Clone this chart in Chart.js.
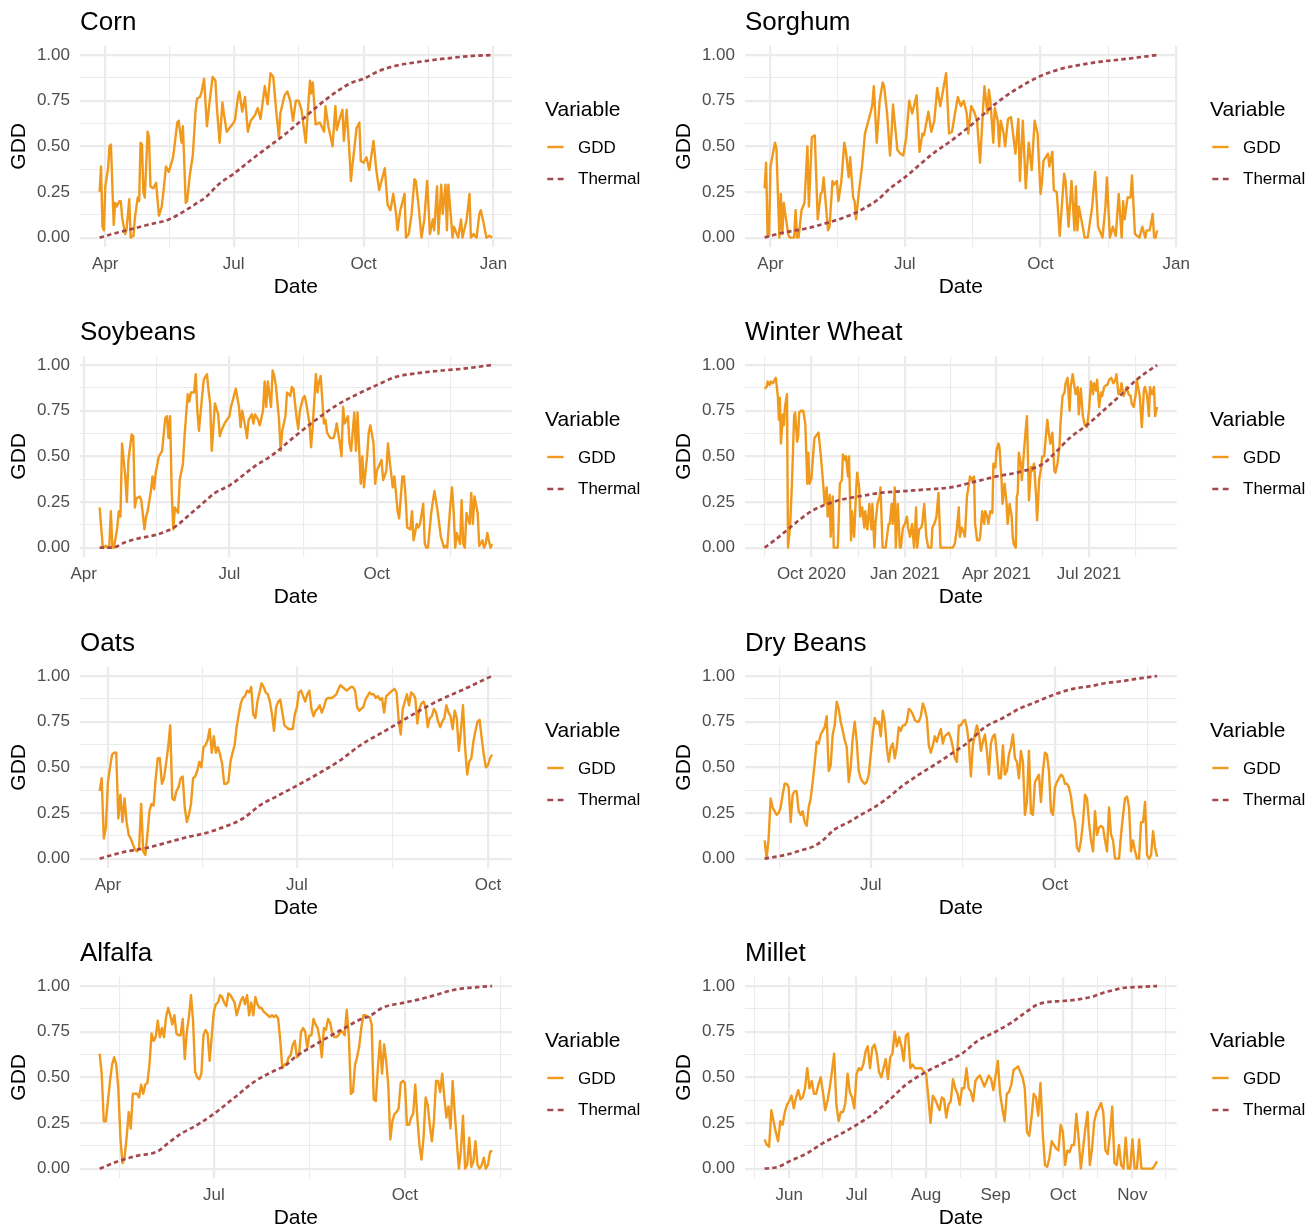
<!DOCTYPE html>
<html>
<head>
<meta charset="utf-8">
<title>GDD and thermal time by crop</title>
<script src="https://cdn.jsdelivr.net/npm/chart.js@4.4.1/dist/chart.umd.min.js"></script>
<style>
  html, body { margin: 0; padding: 0; background: #fff; }
  #page { position: relative; width: 1316px; height: 1230px; overflow: hidden; background: #fff;
          font-family: 'Liberation Sans', Arial, Helvetica, sans-serif; }
  .cell { position: absolute; width: 660px; height: 310px; }
  .cell canvas { position: absolute; left: 0; top: 0; }
  .ptitle { position: absolute; left: 80px; top: 7.9px; font-size: 26px; line-height: 26px; color: #000; white-space: nowrap; }
  .ltitle { position: absolute; left: 545px; top: 98.2px; font-size: 21px; line-height: 21px; color: #000; white-space: nowrap; }
  .lkey { position: absolute; left: 546px; width: 20px; height: 10px; }
  .llabel { position: absolute; left: 578px; font-size: 17px; line-height: 17px; color: #000; white-space: nowrap; }
</style>
</head>
<body>
<div id="page"></div>
<script>
// x values are day numbers counted from 1 January of the season's first year
// (day 0 = 1 Jan). Each series is a list of [day, value] pairs.

const cornGDD = [[86,0.25],[87,0.39],[88,0.06],[89,0.04],[90,0.28],[92,0.38],[93,0.50],[94,0.51],[96,0.07],[97,0.19],[98,0.17],[100,0.20],[101,0.20],[102,0.11],[104,0.02],[105,0.04],[107,0.21],[108,0.00],[110,0.01],[111,0.11],[113,0.22],[114,0.20],[115,0.52],[116,0.51],[117,0.25],[118,0.22],[120,0.58],[121,0.55],[122,0.28],[124,0.27],[126,0.30],[128,0.12],[130,0.17],[132,0.31],[133,0.39],[135,0.36],[138,0.44],[139,0.50],[141,0.63],[142,0.64],[144,0.52],[145,0.61],[147,0.19],[148,0.20],[150,0.35],[152,0.45],[154,0.70],[155,0.76],[157,0.77],[158,0.79],[160,0.87],[162,0.61],[164,0.75],[166,0.88],[168,0.86],[169,0.72],[171,0.52],[173,0.74],[174,0.68],[176,0.58],[179,0.61],[181,0.63],[182,0.65],[184,0.77],[185,0.80],[187,0.69],[189,0.77],[191,0.58],[193,0.64],[196,0.67],[198,0.71],[200,0.65],[203,0.83],[205,0.73],[207,0.90],[209,0.88],[211,0.70],[213,0.55],[214,0.68],[217,0.78],[219,0.80],[221,0.75],[223,0.64],[225,0.75],[227,0.75],[229,0.70],[232,0.52],[235,0.86],[236,0.79],[237,0.85],[239,0.62],[242,0.63],[245,0.58],[246,0.72],[248,0.61],[251,0.50],[253,0.72],[254,0.59],[256,0.65],[258,0.70],[259,0.53],[261,0.70],[263,0.46],[264,0.31],[265,0.39],[268,0.60],[270,0.63],[271,0.42],[273,0.41],[275,0.44],[277,0.37],[280,0.53],[282,0.37],[284,0.26],[288,0.38],[290,0.18],[292,0.15],[294,0.24],[296,0.13],[297,0.04],[299,0.15],[302,0.24],[303,0.00],[305,0.02],[307,0.13],[309,0.32],[310,0.31],[312,0.17],[314,0.00],[316,0.10],[318,0.31],[320,0.02],[322,0.10],[323,0.04],[325,0.28],[326,0.02],[328,0.29],[329,0.13],[331,0.29],[332,0.04],[333,0.29],[336,0.00],[337,0.06],[340,0.00],[342,0.10],[343,0.00],[346,0.10],[348,0.24],[349,0.00],[351,0.02],[353,0.00],[355,0.13],[356,0.15],[358,0.08],[360,0.00],[362,0.01],[364,0.00]];
const cornThermal = [[86,0],[95,0.02],[105,0.04],[120,0.07],[135,0.10],[147,0.15],[155,0.19],[161,0.22],[170,0.29],[181,0.35],[194,0.43],[206,0.50],[218,0.57],[230,0.65],[242,0.73],[254,0.80],[265,0.85],[273,0.87],[283,0.91],[295,0.94],[310,0.96],[330,0.98],[350,0.995],[364,1]];

const sorghumGDD = [[86,0.27],[87,0.41],[88,0.01],[89,0.01],[90,0.39],[93,0.52],[94,0.49],[96,0.00],[97,0.24],[98,0.02],[99,0.19],[100,0.13],[102,0.02],[103,0.00],[106,0.00],[107,0.15],[108,0.00],[109,0.00],[111,0.15],[113,0.19],[115,0.50],[116,0.17],[118,0.55],[120,0.56],[122,0.10],[124,0.24],[125,0.25],[126,0.33],[128,0.13],[129,0.04],[130,0.06],[132,0.31],[133,0.29],[135,0.31],[136,0.20],[138,0.31],[140,0.52],[141,0.48],[143,0.33],[144,0.44],[146,0.22],[147,0.20],[148,0.10],[150,0.26],[152,0.39],[154,0.57],[156,0.63],[158,0.69],[159,0.73],[160,0.83],[162,0.52],[164,0.75],[166,0.85],[167,0.83],[169,0.68],[171,0.45],[172,0.57],[173,0.73],[176,0.48],[178,0.46],[180,0.45],[182,0.55],[184,0.75],[186,0.68],[189,0.78],[191,0.47],[193,0.57],[194,0.56],[197,0.69],[199,0.58],[201,0.64],[203,0.82],[205,0.72],[207,0.81],[209,0.90],[211,0.57],[213,0.58],[215,0.68],[217,0.77],[219,0.72],[221,0.75],[223,0.68],[224,0.57],[226,0.72],[228,0.69],[230,0.64],[232,0.41],[234,0.70],[235,0.83],[237,0.68],[238,0.81],[239,0.75],[241,0.52],[242,0.71],[244,0.64],[245,0.50],[246,0.64],[248,0.57],[249,0.50],[251,0.65],[253,0.66],[256,0.46],[258,0.65],[259,0.31],[261,0.64],[263,0.27],[265,0.52],[267,0.37],[269,0.64],[271,0.57],[273,0.24],[274,0.31],[275,0.42],[278,0.46],[279,0.39],[281,0.47],[282,0.26],[284,0.25],[286,0.01],[289,0.35],[290,0.31],[292,0.06],[294,0.31],[296,0.04],[297,0.28],[298,0.04],[299,0.17],[303,0.00],[305,0.00],[308,0.17],[310,0.36],[312,0.06],[313,0.04],[315,0.00],[317,0.17],[318,0.33],[320,0.00],[322,0.06],[324,0.01],[326,0.24],[328,0.00],[329,0.20],[330,0.10],[332,0.22],[334,0.22],[335,0.34],[337,0.02],[340,0.00],[342,0.06],[344,0.00],[345,0.04],[347,0.04],[349,0.13],[350,0.00],[351,0.00],[352,0.04]];
const sorghumThermal = [[86,0],[90,0.01],[100,0.03],[114,0.05],[128,0.08],[143,0.12],[151,0.15],[163,0.21],[171,0.27],[181,0.33],[200,0.46],[214,0.54],[228,0.63],[242,0.73],[256,0.81],[273,0.885],[288,0.927],[299,0.945],[313,0.963],[328,0.976],[342,0.99],[352,1]];

const soybeanGDD = [[100,0.22],[101,0.11],[102,0],[104,0.01],[105,0],[106,0],[107,0.20],[108,0],[109,0],[111,0.11],[112,0.20],[113,0.17],[114,0.57],[116,0.39],[117,0.25],[118,0.48],[120,0.62],[121,0.61],[122,0.22],[123,0.27],[125,0.28],[126,0.26],[128,0.10],[129,0.17],[130,0.20],[132,0.31],[133,0.39],[134,0.32],[135,0.41],[137,0.50],[139,0.53],[141,0.71],[142,0.72],[143,0.60],[144,0.72],[145,0.31],[146,0.10],[147,0.22],[149,0.19],[150,0.37],[152,0.46],[153,0.61],[155,0.84],[156,0.80],[157,0.85],[159,0.85],[160,0.95],[161,0.75],[162,0.64],[164,0.83],[165,0.92],[167,0.95],[168,0.86],[169,0.79],[170,0.53],[172,0.79],[174,0.73],[175,0.61],[176,0.64],[178,0.68],[181,0.72],[182,0.77],[185,0.87],[187,0.77],[188,0.66],[189,0.75],[191,0.66],[192,0.60],[193,0.70],[195,0.73],[196,0.68],[197,0.73],[199,0.70],[200,0.67],[202,0.75],[203,0.91],[204,0.77],[205,0.91],[207,0.77],[208,0.97],[209,0.94],[210,0.89],[212,0.70],[213,0.53],[214,0.64],[216,0.72],[217,0.85],[219,0.83],[220,0.88],[221,0.87],[223,0.71],[224,0.65],[225,0.75],[227,0.82],[228,0.83],[229,0.79],[231,0.68],[232,0.55],[233,0.66],[235,0.95],[236,0.85],[237,0.91],[238,0.94],[240,0.68],[241,0.70],[242,0.63],[244,0.60],[246,0.60],[247,0.63],[248,0.68],[250,0.57],[251,0.50],[252,0.77],[253,0.68],[255,0.72],[256,0.57],[257,0.53],[259,0.74],[260,0.53],[261,0.74],[263,0.35],[264,0.50],[265,0.33],[267,0.50],[268,0.63],[269,0.67],[271,0.57],[272,0.35],[273,0.42],[275,0.46],[276,0.48],[277,0.37],[279,0.42],[280,0.57],[281,0.48],[283,0.33],[284,0.39],[285,0.30],[286,0.20],[287,0.16],[289,0.39],[290,0.39],[291,0.28],[292,0.11],[294,0.10],[295,0.20],[296,0.04],[298,0.13],[299,0.11],[300,0.13],[302,0.24],[303,0.02],[304,0],[305,0],[307,0.19],[308,0.25],[309,0.31],[311,0.20],[312,0.13],[313,0.06],[315,0],[316,0.01],[317,0],[319,0.24],[320,0.33],[321,0.20],[322,0],[323,0.08],[325,0.02],[326,0.26],[327,0.02],[328,0],[329,0.19],[331,0.13],[332,0.30],[333,0.13],[334,0.28],[336,0.19],[337,0.01],[339,0.04],[340,0],[341,0.02],[342,0.08],[344,0],[345,0.02]];
const soybeanThermal = [[100,0],[108,0],[116,0.03],[124,0.05],[135,0.07],[143,0.095],[148,0.12],[156,0.18],[164,0.24],[172,0.30],[181,0.34],[196,0.44],[209,0.515],[222,0.61],[235,0.70],[248,0.78],[262,0.845],[273,0.89],[285,0.935],[298,0.955],[314,0.97],[327,0.98],[345,1]];

// Winter wheat runs from August 2020 to September 2021 (day 0 = 1 Jan 2020).
const wheatGDD = [[228,0.87],[230,0.88],[231,0.91],[233,0.89],[234,0.91],[236,0.90],[238,0.92],[239,0.93],[241,0.83],[242,0.70],[243,0.82],[244,0.57],[246,0.73],[247,0.67],[248,0.77],[250,0.84],[251,0.00],[253,0.11],[255,0.37],[257,0.72],[258,0.74],[260,0.58],[261,0.61],[262,0.74],[264,0.75],[266,0.75],[268,0.68],[270,0.35],[271,0.52],[272,0.35],[274,0.38],[276,0.53],[277,0.60],[281,0.63],[283,0.52],[285,0.39],[287,0.24],[289,0.33],[290,0.17],[292,0.29],[293,0.06],[295,0.28],[296,0],[298,0],[300,0],[302,0.35],[304,0.37],[305,0.51],[307,0.48],[308,0.50],[310,0.39],[311,0.50],[313,0.04],[314,0.20],[316,0.06],[318,0.31],[319,0.41],[321,0.33],[322,0.17],[324,0.22],[326,0.11],[327,0.20],[329,0.10],[331,0.24],[333,0.10],[334,0.24],[336,0],[337,0.13],[339,0.24],[341,0.28],[342,0.33],[344,0],[346,0],[347,0],[350,0.13],[351,0.13],[353,0.24],[354,0.13],[356,0.33],[357,0],[359,0.24],[361,0],[362,0],[364,0.11],[366,0.13],[368,0.17],[369,0.11],[371,0.06],[373,0.13],[375,0],[377,0.22],[378,0],[380,0.10],[382,0.11],[383,0.13],[385,0.24],[387,0.06],[389,0],[392,0],[393,0.11],[395,0.13],[397,0.17],[399,0.30],[401,0],[403,0],[409,0],[413,0],[415,0.02],[417,0.10],[419,0.22],[420,0.06],[422,0.11],[424,0.08],[425,0.06],[427,0.28],[429,0.35],[430,0.39],[432,0.37],[434,0.39],[435,0.13],[437,0.04],[439,0.04],[440,0.06],[442,0.20],[444,0.13],[445,0.20],[447,0.17],[448,0.13],[450,0.20],[452,0.19],[453,0.46],[455,0.44],[456,0.53],[458,0.57],[459,0.55],[461,0.37],[462,0.24],[464,0.35],[466,0.24],[467,0.13],[469,0.24],[471,0.17],[472,0.06],[473,0.02],[475,0],[476,0.28],[477,0.30],[478,0.52],[480,0.46],[481,0.37],[483,0.52],[485,0.66],[486,0.72],[488,0.26],[490,0.44],[491,0.42],[493,0.46],[495,0.28],[496,0.15],[498,0.37],[500,0.44],[501,0.50],[503,0.50],[504,0.57],[506,0.70],[508,0.61],[509,0.57],[511,0.63],[513,0.42],[514,0.41],[516,0.46],[518,0.55],[519,0.68],[521,0.83],[523,0.85],[524,0.90],[526,0.93],[528,0.75],[529,0.88],[531,0.95],[532,0.91],[534,0.84],[536,0.88],[537,0.73],[539,0.87],[541,0.72],[543,0.67],[545,0.66],[547,0.75],[549,0.91],[551,0.84],[552,0.90],[554,0.86],[555,0.92],[557,0.77],[559,0.85],[560,0.83],[562,0.88],[564,0.89],[565,0.89],[567,0.92],[569,0.93],[571,0.90],[573,0.92],[574,0.95],[576,0.84],[578,0.86],[579,0.90],[581,0.83],[583,0.86],[584,0.88],[586,0.84],[588,0.83],[589,0.79],[591,0.77],[593,0.84],[594,0.92],[596,0.86],[597,0.83],[599,0.66],[601,0.86],[602,0.88],[604,0.84],[606,0.72],[607,0.88],[609,0.84],[611,0.88],[612,0.72],[614,0.77]];
const wheatThermal = [[228,0],[240,0.05],[253,0.11],[264,0.16],[274,0.20],[290,0.24],[305,0.265],[320,0.28],[342,0.30],[366,0.31],[390,0.32],[411,0.33],[434,0.36],[456,0.39],[479,0.415],[502,0.46],[512,0.51],[528,0.60],[547,0.68],[561,0.75],[578,0.835],[594,0.92],[614,1]];

const oatsGDD = [[86,0.37],[87,0.44],[88,0.11],[89,0.17],[90,0.42],[91,0.50],[92,0.57],[93,0.58],[94,0.58],[95,0.22],[96,0.35],[97,0.20],[98,0.33],[99,0.20],[100,0.13],[101,0.11],[102,0.08],[103,0.05],[104,0.04],[105,0.06],[106,0.30],[107,0.04],[108,0.02],[109,0.13],[110,0.26],[111,0.30],[112,0.29],[113,0.44],[114,0.55],[115,0.55],[116,0.41],[117,0.44],[118,0.52],[119,0.61],[120,0.73],[121,0.33],[122,0.32],[123,0.37],[124,0.39],[125,0.44],[126,0.45],[127,0.28],[128,0.20],[129,0.24],[130,0.30],[131,0.44],[132,0.45],[133,0.48],[134,0.53],[135,0.50],[136,0.61],[137,0.62],[138,0.65],[139,0.71],[140,0.58],[141,0.67],[142,0.58],[143,0.61],[144,0.57],[145,0.52],[146,0.41],[147,0.41],[148,0.42],[149,0.53],[150,0.58],[151,0.62],[152,0.72],[153,0.79],[154,0.85],[155,0.88],[156,0.89],[157,0.92],[158,0.91],[159,0.94],[160,0.79],[161,0.77],[162,0.86],[163,0.91],[164,0.96],[165,0.94],[166,0.91],[167,0.90],[168,0.86],[169,0.79],[170,0.70],[171,0.83],[172,0.86],[173,0.87],[174,0.80],[175,0.73],[176,0.72],[177,0.71],[178,0.71],[179,0.71],[180,0.79],[181,0.83],[182,0.91],[183,0.92],[184,0.89],[185,0.86],[186,0.90],[187,0.92],[188,0.82],[189,0.78],[190,0.81],[191,0.82],[192,0.84],[193,0.80],[194,0.83],[195,0.87],[196,0.88],[197,0.88],[198,0.88],[199,0.89],[200,0.90],[201,0.93],[202,0.95],[203,0.94],[204,0.93],[205,0.92],[206,0.93],[207,0.94],[208,0.94],[209,0.92],[210,0.83],[211,0.81],[212,0.82],[213,0.83],[214,0.87],[215,0.89],[216,0.91],[217,0.90],[218,0.90],[219,0.88],[220,0.89],[221,0.87],[222,0.88],[223,0.80],[224,0.89],[225,0.90],[226,0.91],[227,0.92],[228,0.93],[229,0.91],[230,0.76],[231,0.68],[232,0.82],[233,0.86],[234,0.90],[235,0.84],[236,0.91],[237,0.90],[238,0.88],[239,0.74],[240,0.82],[241,0.85],[242,0.86],[243,0.83],[244,0.72],[245,0.77],[246,0.78],[247,0.82],[248,0.80],[249,0.75],[250,0.72],[251,0.75],[252,0.77],[253,0.84],[254,0.80],[255,0.78],[256,0.71],[257,0.81],[258,0.77],[259,0.59],[260,0.70],[261,0.84],[262,0.61],[263,0.46],[264,0.53],[265,0.55],[266,0.64],[267,0.70],[268,0.75],[269,0.76],[270,0.66],[271,0.57],[272,0.50],[273,0.51],[274,0.55],[275,0.57]];
const oatsThermal = [[86,0],[92,0.02],[99,0.04],[109,0.06],[119,0.09],[129,0.12],[137,0.14],[145,0.17],[155,0.22],[163,0.29],[171,0.34],[181,0.40],[192,0.47],[202,0.54],[212,0.625],[222,0.69],[231,0.75],[240,0.81],[250,0.87],[261,0.925],[273,0.99],[275,1]];

const dryBeanGDD = [[128,0.10],[129,0.00],[130,0.11],[131,0.33],[132,0.28],[133,0.26],[134,0.24],[135,0.25],[136,0.28],[137,0.35],[138,0.41],[139,0.41],[140,0.39],[141,0.20],[142,0.35],[143,0.37],[144,0.37],[145,0.26],[146,0.24],[147,0.26],[148,0.20],[149,0.18],[150,0.28],[151,0.33],[152,0.42],[153,0.52],[154,0.64],[155,0.63],[156,0.68],[157,0.70],[158,0.72],[159,0.78],[160,0.48],[161,0.51],[162,0.68],[163,0.73],[164,0.86],[165,0.82],[166,0.75],[167,0.70],[168,0.65],[169,0.61],[170,0.42],[171,0.50],[172,0.66],[173,0.75],[174,0.64],[175,0.48],[176,0.44],[177,0.42],[178,0.41],[179,0.42],[180,0.46],[181,0.57],[182,0.68],[183,0.77],[184,0.74],[185,0.75],[186,0.67],[187,0.81],[188,0.75],[189,0.61],[190,0.53],[191,0.61],[192,0.63],[193,0.55],[194,0.61],[195,0.72],[196,0.70],[197,0.73],[198,0.73],[199,0.75],[200,0.82],[201,0.81],[202,0.79],[203,0.76],[204,0.75],[205,0.75],[206,0.78],[207,0.85],[208,0.82],[209,0.77],[210,0.62],[211,0.58],[212,0.62],[213,0.67],[214,0.64],[215,0.68],[216,0.71],[217,0.63],[218,0.67],[219,0.68],[220,0.69],[221,0.66],[222,0.61],[223,0.55],[224,0.53],[225,0.73],[226,0.73],[227,0.75],[228,0.76],[229,0.72],[230,0.63],[231,0.45],[232,0.62],[233,0.68],[234,0.73],[235,0.69],[236,0.59],[237,0.64],[238,0.68],[239,0.59],[240,0.46],[241,0.63],[242,0.67],[243,0.68],[244,0.57],[245,0.44],[246,0.44],[247,0.62],[248,0.46],[249,0.48],[250,0.57],[251,0.61],[252,0.68],[253,0.55],[254,0.53],[255,0.44],[256,0.59],[257,0.53],[258,0.24],[259,0.31],[260,0.59],[261,0.25],[262,0.24],[263,0.42],[264,0.44],[265,0.46],[266,0.31],[267,0.48],[268,0.58],[269,0.57],[270,0.48],[271,0.26],[272,0.24],[273,0.39],[274,0.42],[275,0.44],[276,0.46],[277,0.45],[278,0.41],[279,0.41],[280,0.39],[281,0.34],[282,0.25],[283,0.20],[284,0.06],[285,0.04],[286,0.10],[287,0.20],[288,0.35],[289,0.33],[290,0.20],[291,0.10],[292,0.04],[293,0.26],[294,0.13],[295,0.17],[296,0.18],[297,0.17],[298,0.10],[299,0.04],[300,0.28],[301,0.13],[302,0.10],[303,0],[304,0],[305,0],[306,0.13],[307,0.24],[308,0.33],[309,0.34],[310,0.28],[311,0.04],[312,0.10],[313,0.04],[314,0],[315,0],[316,0.20],[317,0.20],[318,0.31],[319,0.02],[320,0],[321,0.02],[322,0.15],[323,0.06],[324,0.01]];
const dryBeanThermal = [[128,0],[138,0.02],[146,0.045],[153,0.07],[157,0.10],[163,0.16],[170,0.20],[176,0.24],[181,0.27],[188,0.32],[197,0.40],[205,0.46],[213,0.515],[222,0.58],[230,0.64],[238,0.72],[247,0.77],[255,0.82],[264,0.86],[273,0.90],[282,0.93],[291,0.945],[299,0.963],[305,0.97],[314,0.985],[324,1]];

const alfalfaGDD = [[126,0.63],[127,0.52],[128,0.26],[129,0.26],[130,0.37],[131,0.48],[132,0.57],[133,0.61],[134,0.57],[135,0.44],[136,0.17],[137,0.03],[138,0.06],[139,0.17],[140,0.31],[141,0.22],[142,0.41],[143,0.41],[144,0.41],[145,0.39],[146,0.46],[147,0.41],[148,0.46],[149,0.47],[150,0.57],[151,0.74],[152,0.70],[153,0.72],[154,0.81],[155,0.72],[156,0.77],[157,0.72],[158,0.83],[159,0.88],[160,0.84],[161,0.79],[162,0.84],[163,0.74],[164,0.73],[165,0.73],[166,0.82],[167,0.60],[168,0.75],[169,0.83],[170,0.95],[171,0.81],[172,0.53],[173,0.50],[174,0.49],[175,0.52],[176,0.73],[177,0.76],[178,0.74],[179,0.59],[180,0.73],[181,0.86],[182,0.90],[183,0.91],[184,0.95],[185,0.94],[186,0.91],[187,0.89],[188,0.96],[189,0.95],[190,0.93],[191,0.91],[192,0.84],[193,0.88],[194,0.92],[195,0.94],[196,0.90],[197,0.95],[198,0.84],[199,0.91],[200,0.84],[201,0.94],[202,0.90],[203,0.88],[204,0.88],[205,0.86],[206,0.85],[207,0.84],[208,0.83],[209,0.84],[210,0.83],[211,0.84],[212,0.82],[213,0.70],[214,0.55],[215,0.57],[216,0.57],[217,0.61],[218,0.62],[219,0.68],[220,0.70],[221,0.61],[222,0.62],[223,0.75],[224,0.77],[225,0.75],[226,0.66],[227,0.73],[228,0.73],[229,0.82],[230,0.79],[231,0.77],[232,0.71],[233,0.61],[234,0.77],[235,0.76],[236,0.82],[237,0.80],[238,0.74],[239,0.72],[240,0.72],[241,0.73],[242,0.75],[243,0.75],[244,0.73],[245,0.87],[246,0.73],[247,0.41],[248,0.42],[249,0.57],[250,0.61],[251,0.67],[252,0.77],[253,0.84],[254,0.84],[255,0.83],[256,0.83],[257,0.79],[258,0.38],[259,0.37],[260,0.55],[261,0.70],[262,0.52],[263,0.68],[264,0.59],[265,0.46],[266,0.16],[267,0.26],[268,0.30],[269,0.31],[270,0.33],[271,0.47],[272,0.48],[273,0.47],[274,0.24],[275,0.24],[276,0.28],[277,0.30],[278,0.46],[279,0.28],[280,0.13],[281,0.05],[282,0.17],[283,0.39],[284,0.35],[285,0.24],[286,0.15],[287,0.26],[288,0.48],[289,0.48],[290,0.42],[291,0.52],[292,0.39],[293,0.28],[294,0.34],[295,0.22],[296,0.48],[297,0.31],[298,0.15],[299,0.00],[300,0.10],[301,0.29],[302,0],[303,0.02],[304,0.17],[305,0.01],[306,0.04],[307,0.15],[308,0.02],[309,0],[310,0.02],[311,0.06],[312,0],[313,0.02],[314,0.09],[315,0.10]];
const alfalfaThermal = [[126,0],[136,0.045],[144,0.07],[154,0.095],[159,0.14],[165,0.19],[173,0.24],[181,0.30],[191,0.39],[201,0.48],[209,0.53],[216,0.57],[220,0.61],[227,0.66],[236,0.72],[244,0.77],[252,0.82],[256,0.835],[262,0.88],[273,0.91],[281,0.93],[289,0.955],[295,0.975],[301,0.987],[309,0.995],[315,1]];

const milletGDD = [[140,0.16],[141,0.13],[142,0.12],[143,0.32],[144,0.26],[145,0.20],[146,0.15],[147,0.26],[148,0.24],[149,0.31],[150,0.35],[151,0.37],[152,0.40],[153,0.33],[154,0.39],[155,0.43],[156,0.38],[157,0.39],[158,0.44],[159,0.55],[160,0.44],[161,0.48],[162,0.41],[163,0.41],[164,0.46],[165,0.50],[166,0.42],[167,0.32],[168,0.37],[169,0.44],[170,0.53],[171,0.63],[172,0.35],[173,0.26],[174,0.31],[175,0.31],[176,0.36],[177,0.52],[178,0.42],[179,0.39],[180,0.33],[181,0.52],[182,0.55],[183,0.54],[184,0.57],[185,0.64],[186,0.67],[187,0.55],[188,0.66],[189,0.68],[190,0.63],[191,0.53],[192,0.50],[193,0.55],[194,0.60],[195,0.49],[196,0.61],[197,0.63],[198,0.75],[199,0.67],[200,0.72],[201,0.67],[202,0.59],[203,0.73],[204,0.74],[205,0.55],[206,0.57],[207,0.55],[208,0.55],[209,0.55],[210,0.55],[211,0.53],[212,0.52],[213,0.39],[214,0.25],[215,0.40],[216,0.38],[217,0.35],[218,0.32],[219,0.39],[220,0.38],[221,0.28],[222,0.35],[223,0.37],[224,0.49],[225,0.44],[226,0.41],[227,0.35],[228,0.44],[229,0.44],[230,0.55],[231,0.44],[232,0.42],[233,0.37],[234,0.48],[235,0.50],[236,0.51],[237,0.48],[238,0.45],[239,0.48],[240,0.51],[241,0.49],[242,0.43],[243,0.51],[244,0.59],[245,0.41],[246,0.33],[247,0.26],[248,0.41],[249,0.42],[250,0.46],[251,0.54],[252,0.55],[253,0.56],[254,0.53],[255,0.50],[256,0.44],[257,0.20],[258,0.18],[259,0.28],[260,0.41],[261,0.39],[262,0.29],[263,0.47],[264,0.20],[265,0.02],[266,0.01],[267,0.06],[268,0.15],[269,0.13],[270,0.11],[271,0.10],[272,0.24],[273,0.20],[274,0.02],[275,0.10],[276,0.09],[277,0.13],[278,0.13],[279,0.30],[280,0.17],[281,0.00],[282,0.11],[283,0.22],[284,0.31],[285,0.02],[286,0.11],[287,0.26],[288,0.31],[289,0.33],[290,0.36],[291,0.31],[292,0.10],[293,0.08],[294,0.19],[295,0.34],[296,0.03],[297,0.02],[298,0.13],[299,0.02],[300,0.00],[301,0.17],[302,0],[303,0],[304,0.16],[305,0],[306,0],[307,0.16],[308,0],[309,0],[310,0],[311,0],[312,0],[313,0],[314,0.02],[315,0.04]];
const milletThermal = [[140,0],[146,0.01],[151,0.04],[159,0.085],[166,0.14],[174,0.19],[181,0.24],[189,0.305],[196,0.38],[203,0.46],[212,0.53],[220,0.58],[228,0.63],[235,0.70],[243,0.75],[250,0.80],[254,0.835],[258,0.87],[261,0.895],[265,0.91],[273,0.918],[280,0.927],[287,0.945],[291,0.963],[295,0.976],[300,0.99],[308,0.995],[315,1]];

// Axis breaks: [position, label]. Breaks just outside a panel's range are
// kept so the halfway (minor) grid lines can be placed on both sides.
const seasonBreaks = [[0,'Jan'],[90,'Apr'],[181,'Jul'],[273,'Oct'],[365,'Jan'],[455,'Apr']];
const monthBreaks = [[120,'May'],[151,'Jun'],[181,'Jul'],[212,'Aug'],[243,'Sep'],[273,'Oct'],[304,'Nov'],[334,'Dec']];
const wheatBreaks = [[182,'Jul 2020'],[274,'Oct 2020'],[366,'Jan 2021'],[456,'Apr 2021'],[547,'Jul 2021'],[639,'Oct 2021']];
const valueBreaks = [[0,'0.00'],[0.25,'0.25'],[0.5,'0.50'],[0.75,'0.75'],[1,'1.00']];

const seriesNames = ['GDD', 'Thermal'];
const legendTitle = 'Variable';
const xTitle = 'Date';
const yTitle = 'GDD';

const panels = [
  { title: 'Corn',         gdd: cornGDD,    thermal: cornThermal,    breaks: seasonBreaks, col: 0, row: 0 },
  { title: 'Sorghum',      gdd: sorghumGDD, thermal: sorghumThermal, breaks: seasonBreaks, col: 1, row: 0 },
  { title: 'Soybeans',     gdd: soybeanGDD, thermal: soybeanThermal, breaks: seasonBreaks, col: 0, row: 1 },
  { title: 'Winter Wheat', gdd: wheatGDD,   thermal: wheatThermal,   breaks: wheatBreaks,  col: 1, row: 1 },
  { title: 'Oats',         gdd: oatsGDD,    thermal: oatsThermal,    breaks: seasonBreaks, col: 0, row: 2 },
  { title: 'Dry Beans',    gdd: dryBeanGDD, thermal: dryBeanThermal, breaks: seasonBreaks, col: 1, row: 2 },
  { title: 'Alfalfa',      gdd: alfalfaGDD, thermal: alfalfaThermal, breaks: seasonBreaks, col: 0, row: 3 },
  { title: 'Millet',       gdd: milletGDD,  thermal: milletThermal,  breaks: monthBreaks,  col: 1, row: 3 }
];

// ---- look and layout ----
const FONT = "'Liberation Sans', Arial, Helvetica, sans-serif";
const GDD_COLOR = '#F0991C';
const THERMAL_COLOR = '#A5484D';
const GRID_COLOR = '#EBEBEB';
const GRID_W = 2.2;
const GDD_W = 2.4;
const THERMAL_W = 2.7;
const DASH = [4.5, 3.2];
const KEY_DASH = [6, 4.5];

const COL_LEFT = [0, 665];
const ROW_TOP = [0, 310, 621, 931];
const CELL_W = 660, CELL_H = 310;
const AREA = { left: 80, right: 511.7, top: 45.9, bottom: 246.8 };

Chart.defaults.font.family = FONT;

function expand(lo, hi) {
  const pad = (hi - lo) * 0.05;
  return [lo - pad, hi + pad];
}

// Labelled breaks plus the halfway lines between them, limited to the range.
function gridTicks(breaks, lo, hi) {
  const out = [];
  for (let i = 0; i < breaks.length; i++) {
    out.push({ value: breaks[i][0], major: true, label: breaks[i][1] });
    if (i + 1 < breaks.length) {
      out.push({ value: (breaks[i][0] + breaks[i + 1][0]) / 2, major: false, label: '' });
    }
  }
  return out.filter(t => t.value >= lo && t.value <= hi).sort((a, b) => a.value - b.value);
}

function axisOptions(ticks, lo, hi, extra) {
  const labels = new Map(ticks.map(t => [t.value, t.label]));
  return Object.assign({
    type: 'linear',
    min: lo,
    max: hi,
    bounds: 'data',
    border: { display: false },
    grid: {
      color: GRID_COLOR,
      lineWidth: ctx => (ctx.tick && ctx.tick.major) ? GRID_W : GRID_W / 2,
      drawTicks: false,
      tickLength: 0
    },
    afterBuildTicks: scale => {
      scale.ticks = ticks.map(t => ({ value: t.value, major: t.major }));
    }
  }, extra(labels));
}

function keySvg(dashed) {
  const ns = 'http://www.w3.org/2000/svg';
  const svg = document.createElementNS(ns, 'svg');
  svg.setAttribute('width', '20');
  svg.setAttribute('height', '10');
  const ln = document.createElementNS(ns, 'line');
  ln.setAttribute('x1', '1.3'); ln.setAttribute('x2', '17.6');
  ln.setAttribute('y1', '5'); ln.setAttribute('y2', '5');
  ln.setAttribute('stroke', dashed ? THERMAL_COLOR : GDD_COLOR);
  ln.setAttribute('stroke-width', String(dashed ? THERMAL_W : GDD_W));
  if (dashed) ln.setAttribute('stroke-dasharray', KEY_DASH.join(' '));
  svg.appendChild(ln);
  return svg;
}

function addText(parent, cls, text, top) {
  const d = document.createElement('div');
  d.className = cls;
  d.textContent = text;
  if (top !== undefined) d.style.top = top + 'px';
  parent.appendChild(d);
  return d;
}

const page = document.getElementById('page');

panels.forEach(p => {
  const cell = document.createElement('div');
  cell.className = 'cell';
  cell.style.left = COL_LEFT[p.col] + 'px';
  cell.style.top = ROW_TOP[p.row] + 'px';
  page.appendChild(cell);

  const canvas = document.createElement('canvas');
  canvas.width = CELL_W;
  canvas.height = CELL_H;
  cell.appendChild(canvas);

  addText(cell, 'ptitle', p.title);

  // legend
  addText(cell, 'ltitle', legendTitle);
  const k1 = keySvg(false); k1.setAttribute('class', 'lkey'); k1.style.top = '141.7px'; cell.appendChild(k1);
  addText(cell, 'llabel', seriesNames[0], 139.1);
  const k2 = keySvg(true); k2.setAttribute('class', 'lkey'); k2.style.top = '173.7px'; cell.appendChild(k2);
  addText(cell, 'llabel', seriesNames[1], 169.6);

  const first = p.gdd[0][0], last = p.gdd[p.gdd.length - 1][0];
  const [xLo, xHi] = expand(first, last);
  const ys = p.gdd.concat(p.thermal).map(d => d[1]);
  const [yLo, yHi] = expand(Math.min(...ys), Math.max(...ys));
  const xTicks = gridTicks(p.breaks, xLo, xHi);
  const yTicks = gridTicks(valueBreaks, yLo, yHi);

  new Chart(canvas, {
    type: 'line',
    data: {
      datasets: [
        {
          label: seriesNames[1],
          data: p.thermal.map(([x, y]) => ({ x, y })),
          borderColor: THERMAL_COLOR,
          borderWidth: THERMAL_W,
          borderDash: DASH,
          borderCapStyle: 'butt',
          cubicInterpolationMode: 'monotone',
          pointRadius: 0,
          fill: false
        },
        {
          label: seriesNames[0],
          data: p.gdd.map(([x, y]) => ({ x, y })),
          borderColor: GDD_COLOR,
          borderWidth: GDD_W,
          borderJoinStyle: 'round',
          tension: 0,
          pointRadius: 0,
          fill: false
        }
      ]
    },
    options: {
      responsive: false,
      animation: false,
      devicePixelRatio: 1,
      events: [],
      layout: {
        autoPadding: false,
        padding: { left: 0, top: AREA.top, right: CELL_W - AREA.right, bottom: 0 }
      },
      plugins: { legend: { display: false }, tooltip: { enabled: false }, title: { display: false } },
      scales: {
        x: axisOptions(xTicks, xLo, xHi, labels => ({
          position: 'bottom',
          afterFit: s => { s.height = CELL_H - AREA.bottom; },
          ticks: {
            autoSkip: false, maxRotation: 0, minRotation: 0, padding: 7,
            color: '#4D4D4D', font: { family: FONT, size: 17 },
            callback: v => labels.get(v) || ''
          },
          title: {
            display: true, text: xTitle, color: '#000',
            font: { family: FONT, size: 21 }, padding: { top: 0, bottom: 10 }
          }
        })),
        y: axisOptions(yTicks, yLo, yHi, labels => ({
          position: 'left',
          afterFit: s => { s.width = AREA.left; },
          ticks: {
            autoSkip: false, padding: 10,
            color: '#4D4D4D', font: { family: FONT, size: 17 },
            callback: v => labels.get(v) || ''
          },
          title: {
            display: true, text: yTitle, color: '#000',
            font: { family: FONT, size: 21 }, padding: { top: 6.4, bottom: 0 }
          }
        }))
      }
    }
  });
});
</script>
</body>
</html>
